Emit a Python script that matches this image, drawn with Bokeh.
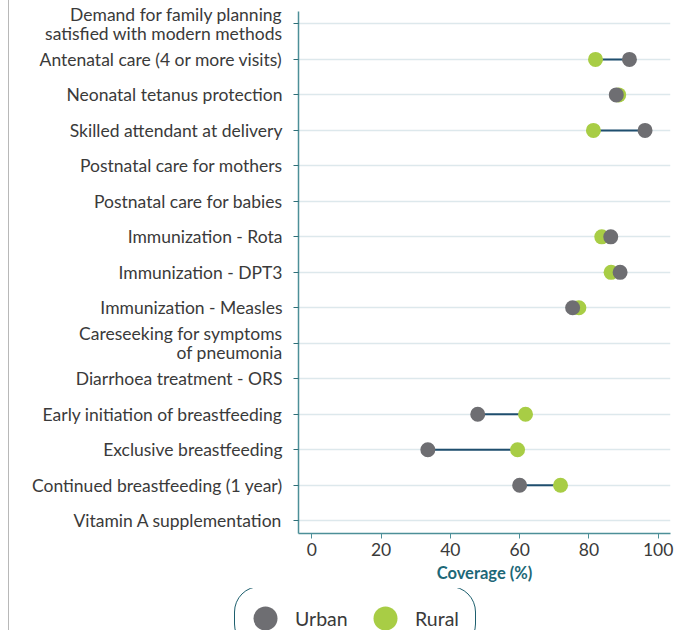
from bokeh.plotting import figure
from bokeh.models import (ColumnDataSource, Range1d, FixedTicker, Legend, LegendItem)
from bokeh.embed import file_html
from bokeh.resources import INLINE

# ---- data ----
indicators = [
    "Demand for family planning\nsatisfied with modern methods",
    "Antenatal care (4 or more visits)",
    "Neonatal tetanus protection",
    "Skilled attendant at delivery",
    "Postnatal care for mothers",
    "Postnatal care for babies",
    "Immunization - Rota",
    "Immunization - DPT3",
    "Immunization - Measles",
    "Careseeking for symptoms\nof pneumonia",
    "Diarrhoea treatment - ORS",
    "Early initiation of breastfeeding",
    "Exclusive breastfeeding",
    "Continued breastfeeding (1 year)",
    "Vitamin A supplementation",
]
urban = [None, 91.7, 87.9, 96.2, None, None, 86.3, 89.0, 75.3, None, None, 47.9, 33.5, 60.0, None]
rural = [None, 81.9, 88.6, 81.3, None, None, 83.7, 86.4, 77.1, None, None, 61.7, 59.4, 71.8, None]
x_ticks = [0, 20, 40, 60, 80, 100]
series_labels = ["Urban", "Rural"]

n = len(indicators)
ypos = [n - 1 - i for i in range(n)]

rows = [(ypos[i], urban[i], rural[i]) for i in range(n) if urban[i] is not None and rural[i] is not None]
src = ColumnDataSource(dict(
    y=[r[0] for r in rows],
    urban=[r[1] for r in rows],
    rural=[r[2] for r in rows],
))

FONT = "Lato"
TEXT = "#3a3a3a"
TEAL = "#4d8f98"
URBAN_C = "#6e6e72"
RURAL_C = "#a8cd45"
LEFT = 298
EDGE = {"background": "linear-gradient(to right, #ffffff 8px, #b8b8b8 8px, #b8b8b8 9px, #ffffff 9px)"}

p = figure(width=678, height=588, output_backend="svg", toolbar_location=None,
           x_range=Range1d(-3.84, 103.55), y_range=Range1d(-0.36, n - 1 + 0.35),
           min_border_left=LEFT, min_border_right=8, min_border_top=11, min_border_bottom=55)
p.outline_line_color = None
p.background_fill_color = "white"
p.border_fill_alpha = 0
p.styles = EDGE

# grid
p.xgrid.grid_line_color = None
p.ygrid.grid_line_color = "#dde8ec"
p.ygrid.grid_line_width = 1.5

# y axis
p.yaxis.ticker = FixedTicker(ticks=ypos)
p.yaxis.major_label_overrides = {ypos[i]: indicators[i] for i in range(n)}
p.yaxis.axis_line_color = TEAL
p.yaxis.axis_line_width = 1.5
p.yaxis.major_tick_in = 0
p.yaxis.major_tick_out = 5
p.yaxis.major_tick_line_color = "#2f6f78"
p.yaxis.minor_tick_line_color = None
p.yaxis.major_label_standoff = 11
p.yaxis.major_label_text_font = FONT
p.yaxis.major_label_text_font_size = "17.5px"
p.yaxis.major_label_text_line_height = 0.9
p.yaxis.major_label_text_color = TEXT

# x axis
p.xaxis.ticker = FixedTicker(ticks=x_ticks)
p.xaxis.axis_line_color = TEAL
p.xaxis.axis_line_width = 1.5
p.xaxis.major_tick_in = 0
p.xaxis.major_tick_out = 5
p.xaxis.major_tick_line_color = TEAL
p.xaxis.minor_tick_line_color = None
p.xaxis.major_label_standoff = 4
p.xaxis.major_label_text_font = FONT
p.xaxis.major_label_text_font_size = "17.5px"
p.xaxis.major_label_text_color = TEXT
p.xaxis.axis_label = "Coverage (%)"
p.xaxis.axis_label_text_font = FONT
p.xaxis.axis_label_text_font_style = "bold"
p.xaxis.axis_label_text_font_size = "16.5px"
p.xaxis.axis_label_text_color = "#1d6877"
p.xaxis.axis_label_standoff = 4

# connectors and dots
p.segment(x0="urban", x1="rural", y0="y", y1="y", source=src,
          line_color="#1f4e6e", line_width=2)
p.scatter(x="rural", y="y", source=src, size=15, fill_color=RURAL_C, line_color=None)
p.scatter(x="urban", y="y", source=src, size=15, fill_color=URBAN_C, line_color=None)

# ---- legend strip (second root, its frame spans the full width) ----
q = figure(width=678, height=42, output_backend="svg", toolbar_location=None,
           x_axis_type=None, y_axis_type=None,
           x_range=Range1d(0, 1), y_range=Range1d(0, 1),
           min_border_left=0, min_border_right=0, min_border_top=0, min_border_bottom=0)
q.outline_line_color = None
q.background_fill_alpha = 0
q.border_fill_alpha = 0
q.xgrid.grid_line_color = None
q.ygrid.grid_line_color = None
q.styles = EDGE
# legend proxies: same data, outside this strip's ranges, so only the legend swatches show
lu = q.scatter(x="urban", y="y", source=src, size=15, fill_color=URBAN_C, line_color=None)
lr = q.scatter(x="rural", y="y", source=src, size=15, fill_color=RURAL_C, line_color=None)

legend = Legend(items=[LegendItem(label=series_labels[0], renderers=[lu], index=0),
                       LegendItem(label=series_labels[1], renderers=[lr], index=0)],
                orientation="horizontal", location=(234, -20),
                glyph_width=60, glyph_height=62, label_standoff=0, spacing=0,
                label_width=60, padding=0, margin=0,
                label_text_font=FONT, label_text_font_size="19.5px", label_text_color=TEXT,
                border_line_color="#1d5f6e", border_line_width=1.5, border_line_alpha=1.0,
                background_fill_color="white", background_fill_alpha=1)
if "border_radius" in Legend.properties():
    legend.border_radius = 26
q.add_layout(legend, "center")

open("out.html", "w").write(file_html([p, q], INLINE))
